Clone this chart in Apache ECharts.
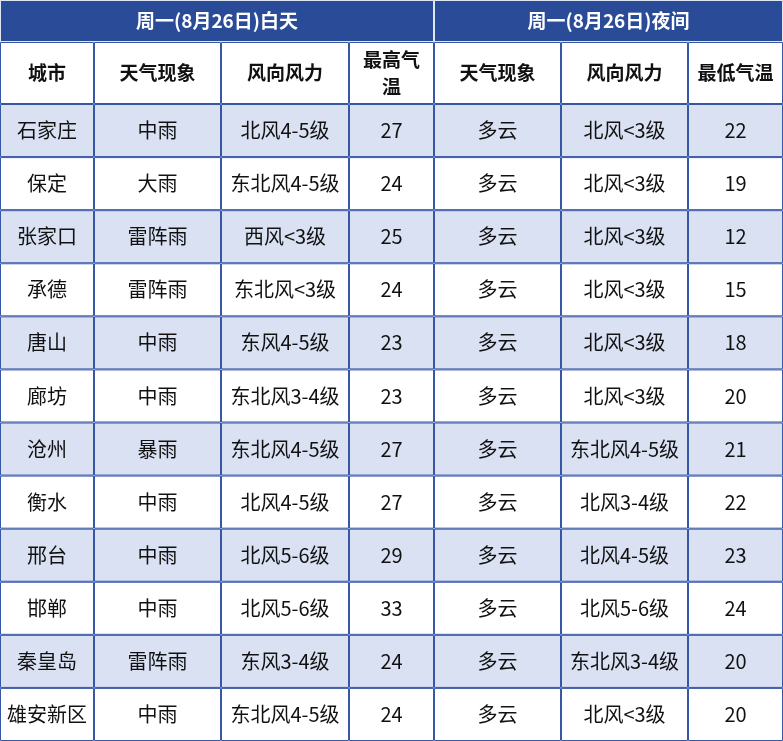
<!DOCTYPE html>
<html>
<head>
<meta charset="utf-8">
<script src="https://cdn.jsdelivr.net/npm/echarts@6/dist/echarts.min.js"></script>
<style>html,body{margin:0;padding:0;background:#fff}#chart{width:783px;height:741px}</style>
</head>
<body>
<div id="chart"></div>
<script>
var titles = ['周一(8月26日)白天', '周一(8月26日)夜间'];
var headers = ['城市', '天气现象', '风向风力', '最高气\n温', '天气现象', '风向风力', '最低气温'];
var cities = ['石家庄', '保定', '张家口', '承德', '唐山', '廊坊', '沧州', '衡水', '邢台', '邯郸', '秦皇岛', '雄安新区'];
var dayWeather = ['中雨', '大雨', '雷阵雨', '雷阵雨', '中雨', '中雨', '暴雨', '中雨', '中雨', '中雨', '雷阵雨', '中雨'];
var dayWind = ['北风4-5级', '东北风4-5级', '西风<3级', '东北风<3级', '东风4-5级', '东北风3-4级', '东北风4-5级', '北风4-5级', '北风5-6级', '北风5-6级', '东风3-4级', '东北风4-5级'];
var highTemp = [27, 24, 25, 24, 23, 23, 27, 27, 29, 33, 24, 24];
var nightWeather = ['多云', '多云', '多云', '多云', '多云', '多云', '多云', '多云', '多云', '多云', '多云', '多云'];
var nightWind = ['北风<3级', '北风<3级', '北风<3级', '北风<3级', '北风<3级', '北风<3级', '东北风4-5级', '北风3-4级', '北风4-5级', '北风5-6级', '东北风3-4级', '北风<3级'];
var lowTemp = [22, 19, 12, 15, 18, 20, 21, 22, 23, 24, 20, 20];

// layout
var colEdges = [0, 94, 221, 349, 434, 561, 688, 783];
var titleH = 42, headH = 62, rowH = (741 - titleH - headH) / cities.length;

var cells = [];
cells.push([0, 434, 0, titleH, titles[0], 't']);
cells.push([434, 783, 0, titleH, titles[1], 't']);
headers.forEach(function (h, i) {
    cells.push([colEdges[i], colEdges[i + 1], titleH, titleH + headH, h, 'h']);
});
cities.forEach(function (c, r) {
    var vals = [c, dayWeather[r], dayWind[r], highTemp[r], nightWeather[r], nightWind[r], lowTemp[r]];
    var y0 = titleH + headH + r * rowH;
    vals.forEach(function (v, i) {
        cells.push([colEdges[i], colEdges[i + 1], y0, y0 + rowH, String(v), r % 2 === 0 ? 'a' : 'b']);
    });
});

var chart = echarts.init(document.getElementById('chart'));
chart.setOption({
    animation: false,
    grid: {left: 0, right: 0, top: 0, bottom: 0},
    xAxis: {type: 'value', min: 0, max: 783, show: false},
    yAxis: {type: 'value', min: 0, max: 741, inverse: true, show: false},
    series: [{
        type: 'custom',
        data: cells,
        renderItem: function (params, api) {
            var p0 = api.coord([api.value(0), api.value(2)]);
            var p1 = api.coord([api.value(1), api.value(3)]);
            var kind = cells[params.dataIndex][5];
            var text = cells[params.dataIndex][4];
            var fill = kind === 't' ? '#2A4C98' : (kind === 'a' ? '#D9E1F3' : '#ffffff');
            var font = kind === 't' ? 'bold 19px' : (kind === 'h' ? 'bold 19px' : '20px');
            return {
                type: 'group',
                children: [{
                    type: 'rect',
                    shape: {x: p0[0] + 0.5, y: p0[1] + 0.5, width: p1[0] - p0[0] - 1, height: p1[1] - p0[1] - 1},
                    style: {fill: fill, stroke: kind === 't' ? '#dfe6f5' : '#3656A6', lineWidth: 1}
                }, {
                    type: 'text',
                    x: (p0[0] + p1[0]) / 2,
                    y: (p0[1] + p1[1]) / 2,
                    style: {
                        text: text,
                        align: 'center',
                        verticalAlign: 'middle',
                        fill: kind === 't' ? '#ffffff' : '#111111',
                        font: font + ' "Noto Sans CJK SC"',
                        lineHeight: 27
                    }
                }]
            };
        }
    }]
});
</script>
</body>
</html>
